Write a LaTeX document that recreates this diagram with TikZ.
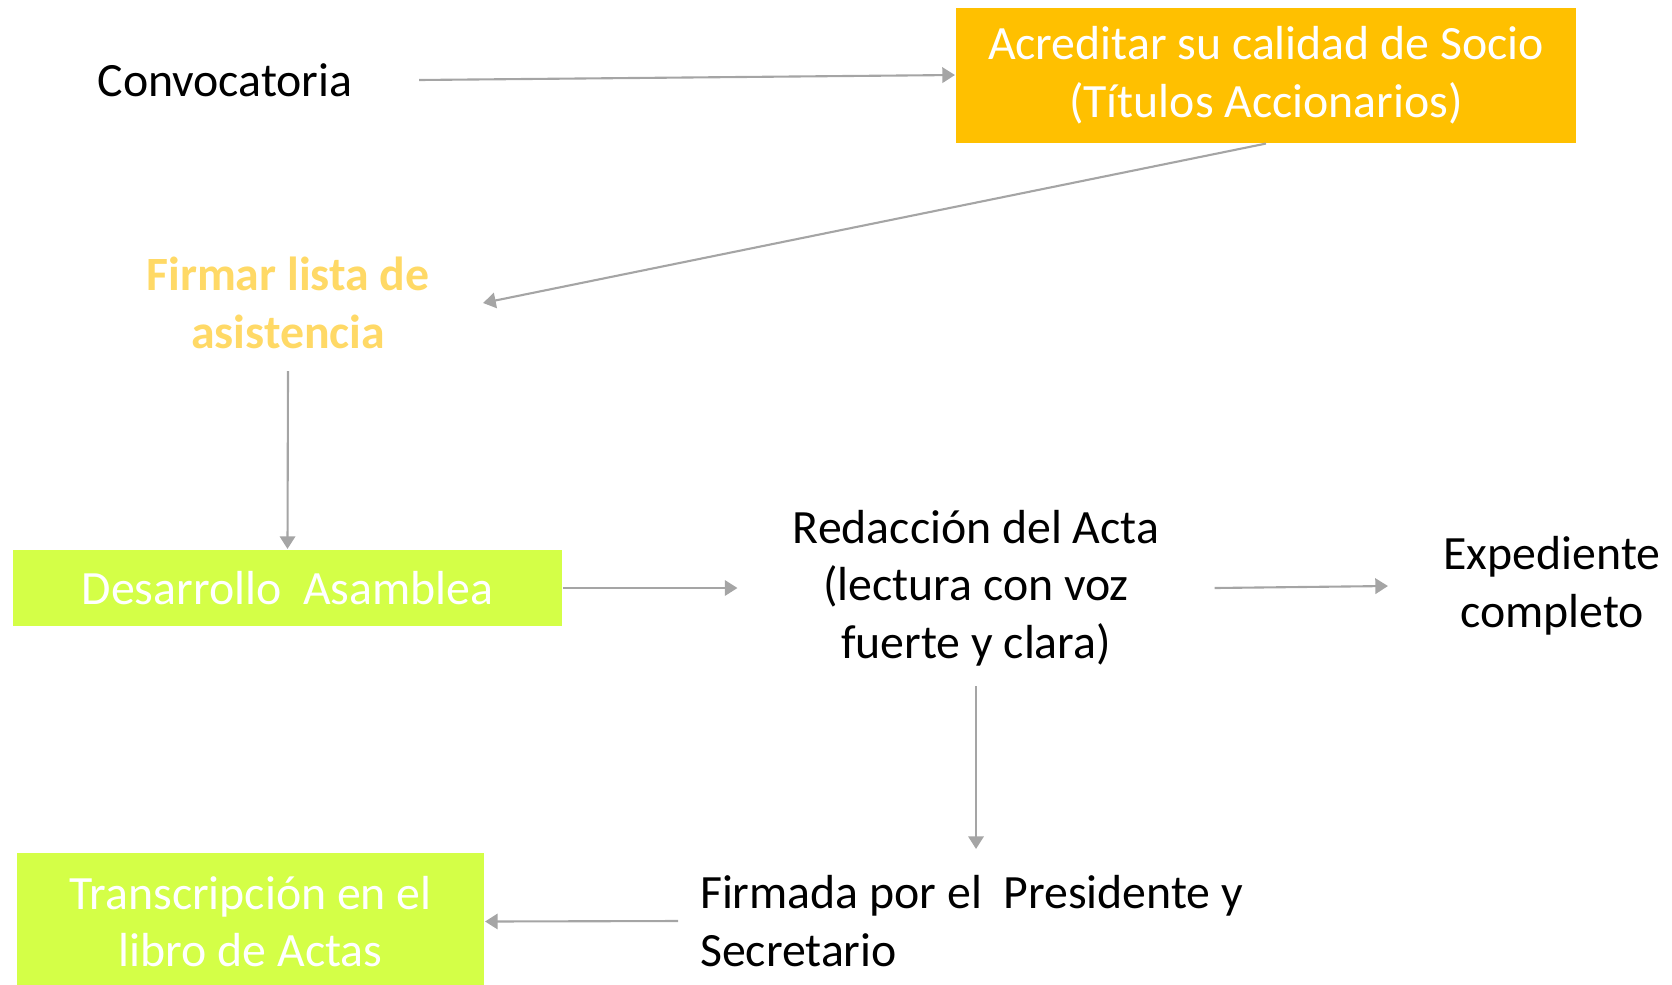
\documentclass[tikz,border=0pt]{standalone}
\usepackage{fontspec}
\setmainfont{Carlito}
\usetikzlibrary{arrows.meta}

\definecolor{socio}{HTML}{FFC000}
\definecolor{lima}{HTML}{D4FF47}
\definecolor{oro}{HTML}{FFD966}
\definecolor{flecha}{HTML}{A5A5A5}

\def\textsize{\fontsize{13.6}{16.4}\selectfont}

\begin{document}
\begin{tikzpicture}[>={Triangle[length=3.6pt,width=4.4pt]},->,draw=flecha,line width=0.6pt]
    \tikzstyle{every node}=[font=\textsize,inner sep=0pt,align=center]
    \tikzstyle{plain}=[text=black]
    \tikzstyle{box}=[text=white]

    \useasboundingbox (0,0) rectangle (16.72,-9.84);

    % Draw the first row
    \node[plain, minimum width=3.86cm] (conv) at (2.25,-0.80) {Convocatoria};
    \node[box, fill=socio, minimum width=6.20cm, minimum height=1.35cm] (acred) at (12.66,-0.75)
        {Acreditar su calidad de Socio\\(Títulos Accionarios)};

    % Attendance
    \node[plain, text=oro, font=\textsize\bfseries, minimum width=3.88cm, minimum height=1.34cm] (firmar) at (2.88,-3.03)
        {Firmar lista de\\asistencia};

    % Draw the middle row
    \node[box, fill=lima, minimum width=5.49cm, minimum height=0.76cm] (desa) at (2.875,-5.88) {Desarrollo\ \ Asamblea};
    \node[plain, minimum width=4.75cm, minimum height=1.94cm] (redac) at (9.76,-5.88)
        {Redacción del Acta\\(lectura con voz\\fuerte y clara)};
    \node[plain, minimum width=3.26cm] (exped) at (15.52,-5.86) {Expediente\\completo};

    % Draw the last row
    \node[plain, anchor=west, align=left, inner xsep=0.21cm, minimum height=1.42cm] (firmada) at (6.78,-9.21)
        {Firmada por el\ \ Presidente y\\Secretario};
    \node[box, fill=lima, minimum width=4.67cm, minimum height=1.37cm] (trans) at (2.505,-9.215)
        {Transcripción en el\\libro de Actas};

    % Connect the steps
    \path (conv.east) edge (acred.west);
    \path (acred.south) edge (firmar.east);
    \path (firmar.south) edge (desa.north);
    \path (desa.east) edge (redac.west);
    \path (redac.east) edge (exped.west);
    \path (redac.south) edge (redac.south |- firmada.north);
    \path (firmada.west) edge (trans.east);
\end{tikzpicture}
\end{document}
